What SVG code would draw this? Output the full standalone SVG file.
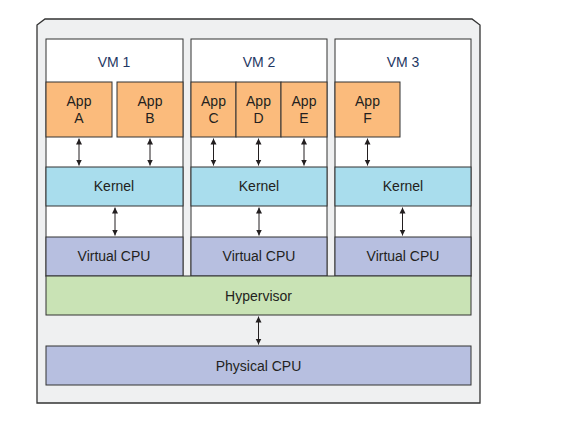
<svg xmlns="http://www.w3.org/2000/svg" width="586" height="435" viewBox="0 0 586 435">
<defs>
<marker id="ah" viewBox="0 0 6 8" refX="6" refY="4" markerWidth="6" markerHeight="8" markerUnits="userSpaceOnUse" orient="auto-start-reverse">
<path d="M0,1 L6,4 L0,7 Z" fill="#231f20"/>
</marker>
<style>
text{font-family:"Liberation Sans",Arial,sans-serif;font-size:14px;fill:#231f20;text-anchor:middle}
.vml{fill:#1f3864}
.box{stroke:#333;stroke-width:1}
.vm{fill:#fff}
.app{fill:#fbbb7c}
.ker{fill:#a9dded}
.cpu{fill:#b7bfe0}
.hyp{fill:#c9e3b5}
.arr{stroke:#231f20;stroke-width:1;fill:none;marker-start:url(#ah);marker-end:url(#ah)}
</style>
</defs>
<rect width="586" height="435" fill="#fff"/>
<g id="host">
<polygon points="37,25 45,19 472,19 480,25 480,403 37,403" fill="#eff0f1" stroke="#333" stroke-width="1.3"/>
</g>
<g id="vm1">
<rect class="box vm" x="46" y="39" width="137" height="237"/>
<text class="vml" x="114" y="67">VM 1</text>
</g>
<g id="vm2">
<rect class="box vm" x="191" y="39" width="136" height="237"/>
<text class="vml" x="259" y="67">VM 2</text>
</g>
<g id="vm3">
<rect class="box vm" x="335" y="39" width="136" height="237"/>
<text class="vml" x="403" y="67">VM 3</text>
</g>
<g id="appA"><rect class="box app" x="46" y="82" width="66" height="55"/><text x="79" y="106">App</text><text x="79" y="123">A</text></g>
<g id="appB"><rect class="box app" x="117" y="82" width="66" height="55"/><text x="150" y="106">App</text><text x="150" y="123">B</text></g>
<g id="appC"><rect class="box app" x="191" y="82" width="45" height="55"/><text x="213.5" y="106">App</text><text x="213.5" y="123">C</text></g>
<g id="appD"><rect class="box app" x="236" y="82" width="45" height="55"/><text x="258.5" y="106">App</text><text x="258.5" y="123">D</text></g>
<g id="appE"><rect class="box app" x="281" y="82" width="46" height="55"/><text x="304" y="106">App</text><text x="304" y="123">E</text></g>
<g id="appF"><rect class="box app" x="335" y="82" width="65" height="55"/><text x="367.5" y="106">App</text><text x="367.5" y="123">F</text></g>
<g id="kernel1"><rect class="box ker" x="46" y="167" width="137" height="39"/><text x="114" y="191">Kernel</text></g>
<g id="kernel2"><rect class="box ker" x="191" y="167" width="136" height="39"/><text x="259" y="191">Kernel</text></g>
<g id="kernel3"><rect class="box ker" x="335" y="167" width="136" height="39"/><text x="403" y="191">Kernel</text></g>
<g id="vcpu1"><rect class="box cpu" x="46" y="237" width="137" height="39"/><text x="114" y="261">Virtual CPU</text></g>
<g id="vcpu2"><rect class="box cpu" x="191" y="237" width="136" height="39"/><text x="259" y="261">Virtual CPU</text></g>
<g id="vcpu3"><rect class="box cpu" x="335" y="237" width="136" height="39"/><text x="403" y="261">Virtual CPU</text></g>
<g id="hypervisor"><rect class="box hyp" x="46" y="276" width="425" height="39"/><text x="258.5" y="301">Hypervisor</text></g>
<g id="physical"><rect class="box cpu" x="46" y="346" width="425" height="39"/><text x="258.5" y="371">Physical CPU</text></g>
<g id="connectors">
<line class="arr" x1="79" y1="138.5" x2="79" y2="165.5"/>
<line class="arr" x1="150" y1="138.5" x2="150" y2="165.5"/>
<line class="arr" x1="213.5" y1="138.5" x2="213.5" y2="165.5"/>
<line class="arr" x1="258.5" y1="138.5" x2="258.5" y2="165.5"/>
<line class="arr" x1="304" y1="138.5" x2="304" y2="165.5"/>
<line class="arr" x1="367.5" y1="138.5" x2="367.5" y2="165.5"/>
<line class="arr" x1="115" y1="207.5" x2="115" y2="235.5"/>
<line class="arr" x1="259" y1="207.5" x2="259" y2="235.5"/>
<line class="arr" x1="402.5" y1="207.5" x2="402.5" y2="235.5"/>
<line class="arr" x1="258.5" y1="316.5" x2="258.5" y2="344.5"/>
</g>
</svg>
